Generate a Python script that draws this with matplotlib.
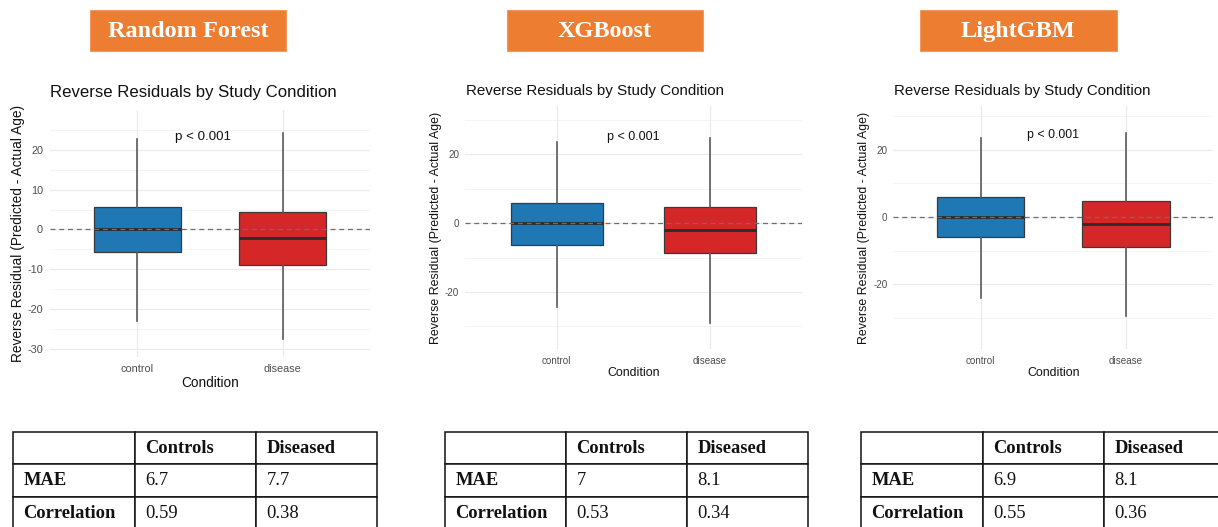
import matplotlib
matplotlib.use("Agg")
import matplotlib.pyplot as plt
from matplotlib.patches import Rectangle
from matplotlib.ticker import MultipleLocator

plt.rcParams["axes.unicode_minus"] = False

# ---------------------------------------------------------------- data
models = ["Random Forest", "XGBoost", "LightGBM"]
conditions = ["control", "disease"]

# Box summaries per model, ordered [control, disease]
whisker_low = [[-22.9, -27.5], [-24.3, -29.0], [-24.0, -29.4]]
q1 = [[-5.7, -8.9], [-6.2, -8.8], [-5.9, -9.0]]
median = [[0.1, -2.2], [0.1, -2.0], [0.0, -2.0]]
q3 = [[5.7, 4.45], [5.9, 4.65], [6.0, 4.65]]
whisker_high = [[22.6, 24.2], [23.6, 24.8], [23.4, 24.9]]

p_label = "p < 0.001"
p_label_x = [1.45, 1.5, 1.5]
p_label_y = [23.2, 25.1, 24.5]

table_header = ["", "Controls", "Diseased"]
table_rows = ["MAE", "Correlation"]
mae = [[6.7, 7.7], [7, 8.1], [6.9, 8.1]]
correlation = [[0.59, 0.38], [0.53, 0.34], [0.55, 0.36]]

box_colors = ["#1F77B4", "#D62728"]

# ---------------------------------------------------------------- layout
W, H = 1218, 527
fig = plt.figure(figsize=(W / 100, H / 100), dpi=100)
fig.patch.set_facecolor("white")

SANS = "Liberation Sans"
SERIF = "Liberation Serif"


def fx(x):
    return x / W


def fy(y):
    return 1 - y / H


def px_axes(l, t, r, b):
    return fig.add_axes([fx(l), fy(b), (r - l) / W, (b - t) / H])


# per-panel geometry in pixels
panels = [
    dict(ax=(50, 110, 370, 356.7), ylim=(-31.86, 29.93), major=10,
         title=(50, 93, 12.1), ylab=(18, 233, 9.9), xlab=(210, 382.7, 9.8),
         tick_fs=7.8, p_fs=9.6, ypad=5.0, xpad=5.2,
         banner=(90, 10, 286, 51),
         table=(13.3, 377.3)),
    dict(ax=(465, 106, 801.7, 349.3), ylim=(-36.64, 34.05), major=20,
         title=(466, 90.7, 10.9), ylab=(436, 228, 8.95), xlab=(633.3, 373.3, 8.9),
         tick_fs=7.1, p_fs=9.0, ypad=4.3, xpad=4.6,
         banner=(506.7, 10, 702.7, 51),
         table=(445, 808.3)),
    dict(ax=(893.3, 106, 1213.3, 349.3), ylim=(-39.29, 32.97), major=20,
         title=(894, 90.7, 10.8), ylab=(864.3, 227.5, 8.9), xlab=(1053.8, 373, 8.9),
         tick_fs=7.1, p_fs=8.9, ypad=4.3, xpad=4.6,
         banner=(920, 10, 1116.7, 51),
         table=(861, 1226)),
]

TABLE_TOP, TABLE_BOTTOM = 431.7, 530

for i, cfg in enumerate(panels):
    # ---- orange model banner
    x0, y0, x1, y1 = cfg["banner"]
    fig.add_artist(Rectangle((fx(x0), fy(y1)), (x1 - x0) / W, (y1 - y0) / H,
                             transform=fig.transFigure, facecolor="#ED7D31",
                             edgecolor="#F19A5C", linewidth=0.8))
    fig.text(fx((x0 + x1) / 2), fy(31.5), models[i], color="white",
             fontsize=17.5, fontweight="bold", family=SERIF,
             ha="center", va="center")

    # ---- boxplot panel
    ax = px_axes(*cfg["ax"])
    ax.set_xlim(0.4, 2.6)
    ax.set_ylim(*cfg["ylim"])
    for s in ax.spines.values():
        s.set_visible(False)
    ax.set_facecolor("white")

    major = cfg["major"]
    ax.yaxis.set_major_locator(MultipleLocator(major))
    ax.yaxis.set_minor_locator(MultipleLocator(major / 2))
    ax.grid(True, which="major", color="#EBEBEB", linewidth=0.9)
    ax.grid(True, which="minor", axis="y", color="#F2F2F2", linewidth=0.6)
    ax.set_axisbelow(True)

    stats = []
    for j, cond in enumerate(conditions):
        stats.append(dict(label=cond, med=median[i][j], q1=q1[i][j], q3=q3[i][j],
                          whislo=whisker_low[i][j], whishi=whisker_high[i][j],
                          fliers=[]))
    bp = ax.bxp(stats, positions=[1, 2], widths=0.6, patch_artist=True,
                showfliers=False, showcaps=False,
                boxprops=dict(edgecolor="#3A3A3A", linewidth=0.9),
                whiskerprops=dict(color="#5A5A5A", linewidth=1.2),
                medianprops=dict(color="#2B2B2B", linewidth=2.0),
                zorder=3)
    for patch, col in zip(bp["boxes"], box_colors):
        patch.set_facecolor(col)

    ax.set_xticks([1, 2])
    ax.set_xticklabels(conditions)
    ax.set_xlim(0.4, 2.6)
    ax.tick_params(axis="both", which="both", length=0, colors="#4D4D4D",
                   labelsize=cfg["tick_fs"])
    ax.tick_params(axis="y", pad=cfg["ypad"])
    ax.tick_params(axis="x", pad=cfg["xpad"])
    for lab in ax.get_xticklabels() + ax.get_yticklabels():
        lab.set_family(SANS)

    ax.axhline(0, color="#6E6E6E", linewidth=0.9, linestyle=(0, (4, 3)), zorder=4)

    ax.text(p_label_x[i], p_label_y[i], p_label, ha="center", va="center",
            fontsize=cfg["p_fs"], family=SANS, color="#111111")

    tx, ty, tfs = cfg["title"]
    fig.text(fx(tx), fy(ty), "Reverse Residuals by Study Condition",
             ha="left", va="center", fontsize=tfs, family=SANS, color="#111111")
    lx, ly, lfs = cfg["ylab"]
    fig.text(fx(lx), fy(ly), "Reverse Residual (Predicted - Actual Age)",
             ha="center", va="center", rotation=90, fontsize=lfs,
             family=SANS, color="#111111")
    cx, cy, cfs = cfg["xlab"]
    fig.text(fx(cx), fy(cy), "Condition", ha="center", va="center",
             fontsize=cfs, family=SANS, color="#111111")

    # ---- metrics table
    tl, tr = cfg["table"]
    tax = px_axes(tl, TABLE_TOP, tr, TABLE_BOTTOM)
    tax.axis("off")
    cells = [table_header,
             [table_rows[0]] + [f"{v:g}" for v in mae[i]],
             [table_rows[1]] + [f"{v:g}" for v in correlation[i]]]
    tbl = tax.table(cellText=cells, bbox=[0, 0, 1, 1], cellLoc="left")
    tbl.auto_set_font_size(False)
    tbl.set_fontsize(13.3)
    for (r, c), cell in tbl.get_celld().items():
        cell.set_edgecolor("#111111")
        cell.set_linewidth(1.1)
        cell.PAD = 0.085
        txt = cell.get_text()
        txt.set_family(SERIF)
        txt.set_color("#111111")
        if r == 0 or c == 0:
            txt.set_fontweight("bold")

fig.savefig("out.png", dpi=100, facecolor="white")
